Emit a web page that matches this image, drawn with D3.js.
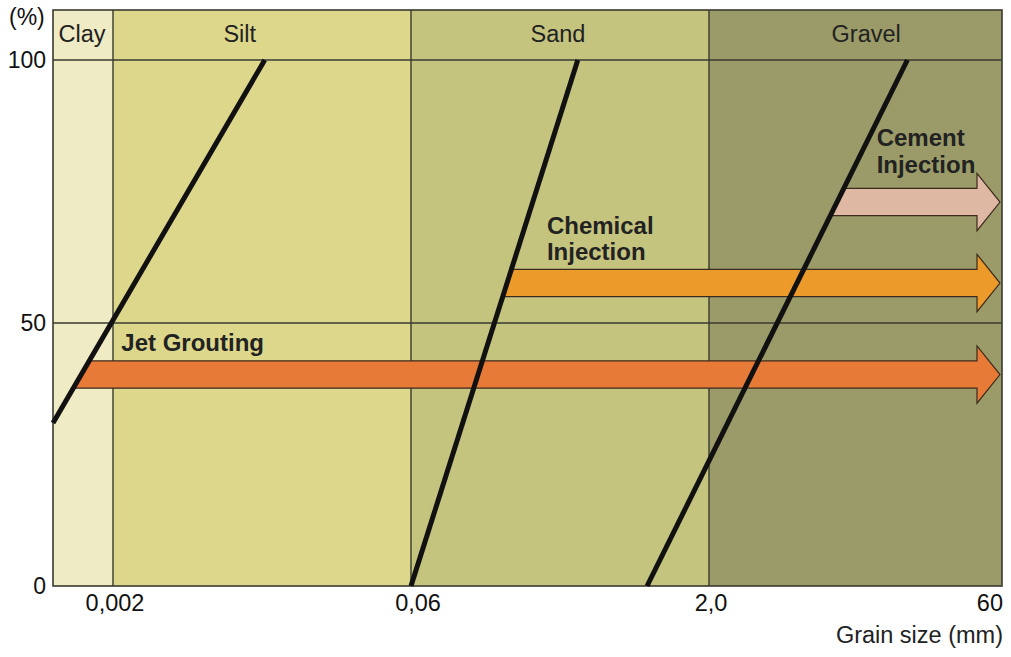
<!DOCTYPE html>
<html><head><meta charset="utf-8">
<script src="https://cdn.jsdelivr.net/npm/d3@7"></script>
<style>body{margin:0;background:#fff}svg{display:block}text{font-family:"Liberation Sans",Arial,sans-serif}</style>
</head><body><svg id="c" width="1011" height="657"></svg>
<script>
// ---- data ----
const xTickValues = [0.002, 0.06, 2, 60];
const xTickLabels = ["0,002", "0,06", "2,0", "60"];
const yTickValues = [0, 50, 100];
const soilNames = ["Clay", "Silt", "Sand", "Gravel"];
const soilFrom = [0.001, 0.002, 0.06, 2];
const soilTo = [0.002, 0.06, 2, 60];
const soilLabelAt = [0.0014, 0.0085, 0.338, 12.4];
const soilColors = ["#efebc4", "#ddd78c", "#c4c47f", "#9a9b68"];
// grading limit lines: [grain size, percent passing]
const curve1 = [[0.001, 31], [0.0113, 100]];
const curve2 = [[0.06, 0], [0.427, 100]];
const curve3 = [[0.965, 0], [20, 100]];
const curves = [curve1, curve2, curve3];
// injection methods: label, percent level, curve at which arrow starts
const methodNames = ["Jet Grouting", "Chemical Injection", "Cement Injection"];
const methodLevel = [40.2, 57.6, 73.0];
const methodCurve = [0, 1, 2];
const methodEnd = [60, 60, 60];
const methodColors = ["#e87a38", "#ec9a2a", "#dfb8a3"];
const methodLabelX = [0.0022, 0.297, 14.0];
const methodLabelY = [44.6, 67.0, 83.65];

// ---- layout ----
const svg = d3.select("#c");
const x = d3.scaleLog().domain([0.001, 0.002, 0.06, 2, 60]).range([53, 113, 411, 709, 1002]);
const y = d3.scaleLinear().domain([0, 100]).range([586, 60]);
const plotTop = 10, plotBottom = 586;

// soil columns
soilNames.forEach((n, i) => {
  svg.append("rect").attr("x", x(soilFrom[i])).attr("y", plotTop)
    .attr("width", x(soilTo[i]) - x(soilFrom[i])).attr("height", plotBottom - plotTop)
    .attr("fill", soilColors[i]);
  svg.append("text").attr("x", x(soilLabelAt[i])).attr("y", 42)
    .attr("text-anchor", "middle").attr("font-size", 23.5).attr("fill", "#222").text(n);
});

// grid lines
const gridColor = "#3a3a30";
[50, 100].forEach(v => svg.append("line").attr("x1", x(0.001)).attr("x2", x(60))
  .attr("y1", y(v)).attr("y2", y(v)).attr("stroke", gridColor).attr("stroke-width", 1.4));
[0.002, 0.06, 2].forEach(v => svg.append("line").attr("x1", x(v)).attr("x2", x(v))
  .attr("y1", plotTop).attr("y2", plotBottom).attr("stroke", gridColor).attr("stroke-width", 1.4));
svg.append("rect").attr("x", x(0.001)).attr("y", plotTop).attr("width", x(60) - x(0.001))
  .attr("height", plotBottom - plotTop).attr("fill", "none").attr("stroke", gridColor).attr("stroke-width", 1.6);

// curve pixel helper
function curveXAt(ci, py) {
  const c = curves[ci];
  const p0 = [x(c[0][0]), y(c[0][1])], p1 = [x(c[1][0]), y(c[1][1])];
  return p0[0] + (py - p0[1]) / (p1[1] - p0[1]) * (p1[0] - p0[0]);
}

// arrows
const bodyHalf = 2.6, headHalf = 5.45;
methodNames.forEach((n, i) => {
  const yc = y(methodLevel[i]);
  const yt = y(methodLevel[i] + bodyHalf), yb = y(methodLevel[i] - bodyHalf);
  const ht = y(methodLevel[i] + headHalf), hb = y(methodLevel[i] - headHalf);
  const tip = x(methodEnd[i]) - 2, base = tip - 23;
  const pts = [[curveXAt(methodCurve[i], yt), yt], [base, yt], [base, ht], [tip, yc],
    [base, hb], [base, yb], [curveXAt(methodCurve[i], yb), yb]];
  svg.append("path").attr("d", d3.line()(pts) + "Z").attr("fill", methodColors[i])
    .attr("stroke", "#3b2b1e").attr("stroke-width", 1.2).attr("stroke-linejoin", "miter");
  const words = i === 0 ? [n] : n.split(" ");
  const t = svg.append("text").attr("x", x(methodLabelX[i])).attr("y", y(methodLabelY[i]))
    .attr("font-size", 24).attr("font-weight", "bold").attr("fill", "#222");
  words.forEach((w, k) => t.append("tspan").attr("x", x(methodLabelX[i])).attr("dy", k === 0 ? 0 : 26.5).text(w));
});

// grading curves
curves.forEach(c => svg.append("path")
  .attr("d", d3.line().x(d => x(d[0])).y(d => y(d[1]))(c))
  .attr("stroke", "#111").attr("stroke-width", 5).attr("fill", "none"));

// axes labels
yTickValues.forEach(v => svg.append("text").attr("x", 46).attr("y", y(v))
  .attr("dy", "0.35em").attr("text-anchor", "end").attr("font-size", 23).attr("fill", "#111").text(v));
svg.append("text").attr("x", 9).attr("y", 25).attr("font-size", 23).attr("fill", "#111").text("(%)");
xTickValues.forEach((v, i) => svg.append("text").attr("x", i === 3 ? x(v) + 1 : x(v) + (i === 1 ? 7 : 2))
  .attr("y", 611).attr("text-anchor", i === 3 ? "end" : "middle").attr("font-size", 23.5)
  .attr("fill", "#111").text(xTickLabels[i]));
svg.append("text").attr("x", 1003).attr("y", 643).attr("text-anchor", "end")
  .attr("font-size", 23.5).attr("fill", "#222").text("Grain size (mm)");
</script></body></html>
